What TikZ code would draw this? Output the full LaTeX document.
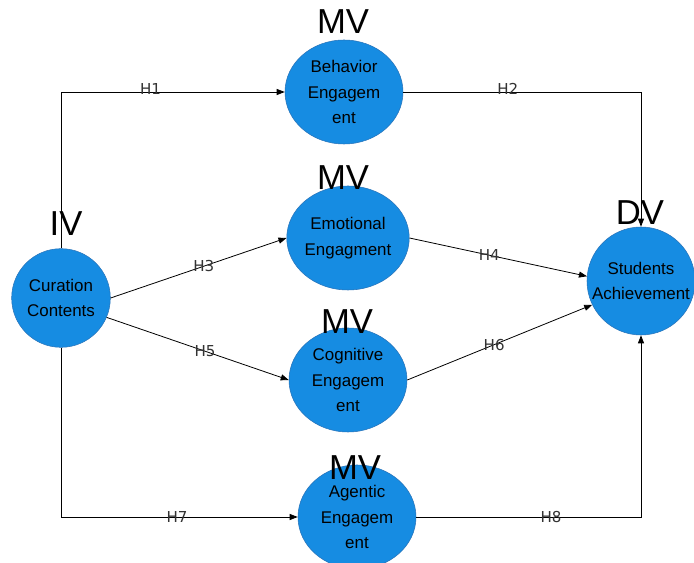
\documentclass[tikz,border=0pt]{standalone}
\usepackage{fontspec}
\setmainfont{Liberation Sans}
\newfontfamily\hfont{DejaVu Sans}
\usetikzlibrary{shapes.geometric,arrows.meta,positioning}
\definecolor{nodeblue}{RGB}{22,140,226}
\definecolor{rimblue}{RGB}{40,115,185}

\begin{document}
\begin{tikzpicture}[x=0.75pt,y=-0.75pt,
          var/.style={ellipse,draw=rimblue,fill=nodeblue,inner sep=0pt,
                      minimum width=88.5pt,minimum height=78pt,align=center,
                      font=\fontsize{12.7}{19}\selectfont},
          endvar/.style={circle,draw=rimblue,fill=nodeblue,inner sep=0pt,
                      align=center,font=\fontsize{12.7}{19}\selectfont},
          arr/.style={-{Triangle[length=6pt,width=4.5pt]},line width=0.6pt},
          hyp/.style={font=\hfont\fontsize{11.3}{12}\selectfont,
                      text=black!80,inner sep=0pt},
          tag/.style={font=\fontsize{26}{26}\selectfont,inner sep=0pt}]
        \useasboundingbox (0,0) rectangle (694,563);
        \node[endvar,minimum size=74pt] (cc) at (61,298) {Curation\\Contents};
        \node[var] (beh) at (344,92) {Behavior\\Engagem\\ent};
        \node[var] (emo) at (348,238) {Emotional\\Engagment};
        \node[var] (cog) at (348,380) {Cognitive\\Engagem\\ent};
        \node[var] (agn) at (357,517) {Agentic\\Engagem\\ent};
        \node[endvar,minimum size=81pt] (stu) at (641,281) {Students\\Achievement};
        % hypotheses
        \draw[arr] (cc.north) |- (beh.west) node[hyp,pos=0.70,yshift=2pt] (h1) {H1};
        \draw[arr] (beh.east) -| (stu.north) node[hyp,pos=0.22,yshift=2pt] (h2) {H2};
        \draw[arr] (cc.east) -- (emo.west) node[hyp,pos=0.53] (h3) {H3};
        \draw[arr] (emo.east) -- (stu.175) node[hyp,pos=0.45] (h4) {H4};
        \draw[arr] (cc.-23) -- (cog.west) node[hyp,pos=0.54] (h5) {H5};
        \draw[arr] (cog.east) -- (stu.206) node[hyp,pos=0.47] (h6) {H6};
        \draw[arr] (cc.south) |- (agn.west) node[hyp,pos=0.745] (h7) {H7};
        \draw[arr] (agn.east) -| (stu.south) node[hyp,pos=0.30] (h8) {H8};
        % variable types
        \node[tag] (iv) at (66,224) {IV};
        \node[tag] (mv1) at (343,22) {MV};
        \node[tag] (mv2) at (343,178) {MV};
        \node[tag] (mv3) at (347,322) {MV};
        \node[tag] (mv4) at (355,468) {MV};
        \node[tag] (dv) at (640,213) {DV};
      \end{tikzpicture}
\end{document}
